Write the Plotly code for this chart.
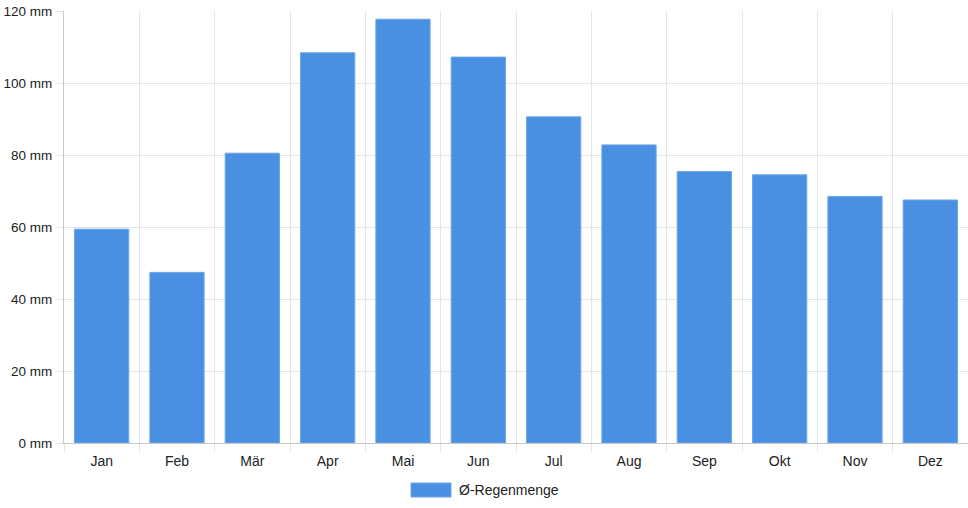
import plotly.graph_objects as go

# monthly average rainfall (mm)
months = ["Jan", "Feb", "Mär", "Apr", "Mai", "Jun",
          "Jul", "Aug", "Sep", "Okt", "Nov", "Dez"]
rain_mm = [59.4, 47.4, 80.5, 108.4, 117.7, 107.2,
           90.6, 82.8, 75.4, 74.5, 68.5, 67.5]
y_ticks = [0, 20, 40, 60, 80, 100, 120]
y_labels = [f"{v} mm" for v in y_ticks]
series_name = "Ø-Regenmenge"

bar_color = "#4a90e2"
grid_color = "#e5e5e5"
font = dict(family="Liberation Sans, Arial, sans-serif", size=14, color="#222")

x_pos = list(range(len(months)))
boundaries = [i - 0.5 for i in range(len(months) + 1)]

fig = go.Figure()
fig.add_trace(go.Bar(
    x=x_pos,
    y=rain_mm,
    name=series_name,
    width=0.72,
    marker=dict(color=bar_color, line=dict(color="#6aa5ea", width=1)),
    showlegend=False,
))

fig.update_layout(
    width=968,
    height=508,
    margin=dict(l=64, r=0, t=11, b=65),
    paper_bgcolor="white",
    plot_bgcolor="white",
    font=font,
    xaxis=dict(
        range=[-0.5, len(months) - 0.5],
        tickvals=x_pos,
        ticktext=months,
        ticks="outside",
        ticklen=5,
        tickcolor="rgba(0,0,0,0)",
        showgrid=False,
        zeroline=False,
        showline=True,
        linecolor="#c8c8c8",
        linewidth=1,
        minor=dict(
            tickvals=boundaries,
            showgrid=True,
            gridcolor=grid_color,
            gridwidth=1,
            ticks="outside",
            ticklen=8,
            tickcolor=grid_color,
        ),
    ),
    yaxis=dict(
        range=[0, 120],
        tickvals=y_ticks,
        ticktext=y_labels,
        tickfont=dict(size=13.5),
        ticks="outside",
        ticklen=8,
        tickcolor=grid_color,
        ticklabeloverflow="allow",
        showgrid=True,
        gridcolor=grid_color,
        zeroline=False,
        showline=True,
        linecolor="#c8c8c8",
        linewidth=1,
    ),
)

# legend swatch + label below the plot, drawn like the original
fig.add_shape(
    type="rect", xref="paper", yref="paper",
    x0=(411 - 64) / 904, x1=(451 - 64) / 904,
    y0=-(483 - 443) / 432, y1=-(497 - 443) / 432,
    fillcolor=bar_color, line=dict(color="#6aa5ea", width=1),
)
fig.add_annotation(
    text=series_name, xref="paper", yref="paper",
    x=(457 - 64) / 904, y=-(490 - 443) / 432,
    xanchor="left", yanchor="middle", showarrow=False,
    font=font,
)

# drop the default page margin so the figure fills the window
fig.write_html(
    "out.html",
    config={"displayModeBar": False},
    post_script="document.body.style.margin='0';",
)
